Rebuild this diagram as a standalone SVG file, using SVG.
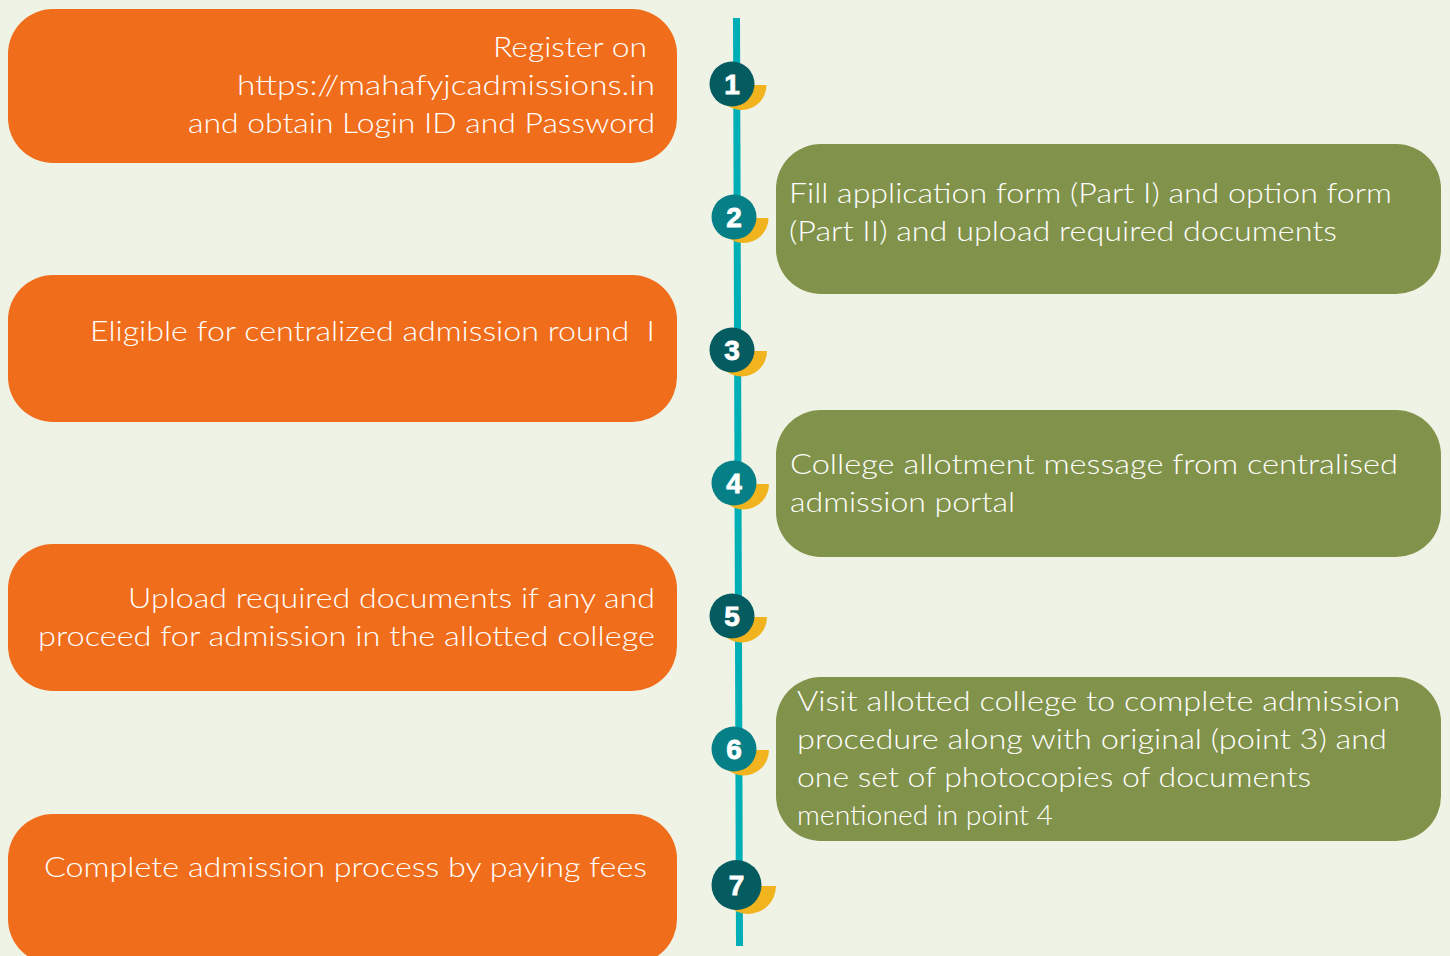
<svg xmlns="http://www.w3.org/2000/svg" width="1450" height="956" viewBox="0 0 1450 956">
<style>
.bg{fill:#EFF3E5}
.or{fill:#F06D1B}
.gr{fill:#81924A}
.t{font-family:Lato,"Open Sans","Liberation Sans",sans-serif;font-size:28px;fill:#FFFFFF;font-weight:300}
.r{text-anchor:end}
.dk{fill:#045C60}
.lt{fill:#077F86}
.yl{fill:#F2B41E}
.n{font-family:"Liberation Sans",Arial,sans-serif;font-size:28px;font-weight:bold;fill:#FFFFFF;text-anchor:middle;stroke:#FFFFFF;stroke-width:0.8}
</style>
<rect class="bg" x="0" y="0" width="1450" height="956"/>
<g id="connectors">
<line x1="736.5" y1="18" x2="739.5" y2="946" stroke="#00AEB6" stroke-width="7"/>
</g>
<g id="node1">
<rect class="or" x="8" y="9" width="669" height="154" rx="45"/>
<text class="t r" x="647" y="57" textLength="154" lengthAdjust="spacingAndGlyphs">Register on</text>
<text class="t r" x="655" y="95" textLength="418" lengthAdjust="spacingAndGlyphs">https://mahafyjcadmissions.in</text>
<text class="t r" x="655" y="133" textLength="467" lengthAdjust="spacingAndGlyphs">and obtain Login ID and Password</text>
</g>
<g id="node2">
<rect class="gr" x="776" y="144" width="665" height="150" rx="45"/>
<text class="t" x="789" y="203" textLength="603" lengthAdjust="spacingAndGlyphs">Fill application form (Part I) and option form</text>
<text class="t" x="789" y="241" textLength="548" lengthAdjust="spacingAndGlyphs">(Part II) and upload required documents</text>
</g>
<g id="node3">
<rect class="or" x="8" y="275" width="669" height="147" rx="45"/>
<text class="t" x="90" y="341" textLength="565" lengthAdjust="spacingAndGlyphs" xml:space="preserve">Eligible for centralized admission round  I</text>
</g>
<g id="node4">
<rect class="gr" x="776" y="410" width="665" height="147" rx="45"/>
<text class="t" x="790" y="474" textLength="608" lengthAdjust="spacingAndGlyphs">College allotment message from centralised</text>
<text class="t" x="790" y="512" textLength="225" lengthAdjust="spacingAndGlyphs">admission portal</text>
</g>
<g id="node5">
<rect class="or" x="8" y="544" width="669" height="147" rx="45"/>
<text class="t r" x="655" y="608" textLength="527" lengthAdjust="spacingAndGlyphs">Upload required documents if any and</text>
<text class="t r" x="655" y="646" textLength="617" lengthAdjust="spacingAndGlyphs">proceed for admission in the allotted college</text>
</g>
<g id="node6">
<rect class="gr" x="776" y="677" width="665" height="164" rx="45"/>
<text class="t" x="797" y="711" textLength="603" lengthAdjust="spacingAndGlyphs">Visit allotted college to complete admission</text>
<text class="t" x="797" y="749" textLength="590" lengthAdjust="spacingAndGlyphs">procedure along with original (point 3) and</text>
<text class="t" x="797" y="787" textLength="514" lengthAdjust="spacingAndGlyphs">one set of photocopies of documents</text>
<text class="t" x="797" y="825" textLength="256" lengthAdjust="spacingAndGlyphs">mentioned in point 4</text>
</g>
<g id="node7">
<rect class="or" x="8" y="814" width="669" height="150" rx="45"/>
<text class="t" x="44" y="877" textLength="603" lengthAdjust="spacingAndGlyphs">Complete admission process by paying fees</text>
</g>
<g id="step1">
<path class="yl" d="M716.5 85 A25 25 0 0 0 766.5 85 Z"/>
<circle class="dk" cx="732" cy="84" r="22.5"/>
<text class="n" x="732" y="94">1</text>
</g>
<g id="step2">
<path class="yl" d="M718.5 218 A25 25 0 0 0 768.5 218 Z"/>
<circle class="lt" cx="734" cy="217" r="22.5"/>
<text class="n" x="734" y="227">2</text>
</g>
<g id="step3">
<path class="yl" d="M716 351 A25.5 25.5 0 0 0 767 351 Z"/>
<circle class="dk" cx="732" cy="350" r="22.5"/>
<text class="n" x="732" y="360">3</text>
</g>
<g id="step4">
<path class="yl" d="M718 484 A25.5 25.5 0 0 0 769 484 Z"/>
<circle class="lt" cx="734" cy="483" r="22.5"/>
<text class="n" x="734" y="493">4</text>
</g>
<g id="step5">
<path class="yl" d="M716 617 A25.5 25.5 0 0 0 767 617 Z"/>
<circle class="dk" cx="732" cy="616" r="22.5"/>
<text class="n" x="732" y="626">5</text>
</g>
<g id="step6">
<path class="yl" d="M718 750 A25.5 25.5 0 0 0 769 750 Z"/>
<circle class="lt" cx="734" cy="749" r="22.5"/>
<text class="n" x="734" y="759">6</text>
</g>
<g id="step7">
<path class="yl" d="M720 886 A28 28 0 0 0 776 886 Z"/>
<circle class="dk" cx="736.5" cy="885" r="25"/>
<text class="n" x="736.5" y="895">7</text>
</g>
</svg>
